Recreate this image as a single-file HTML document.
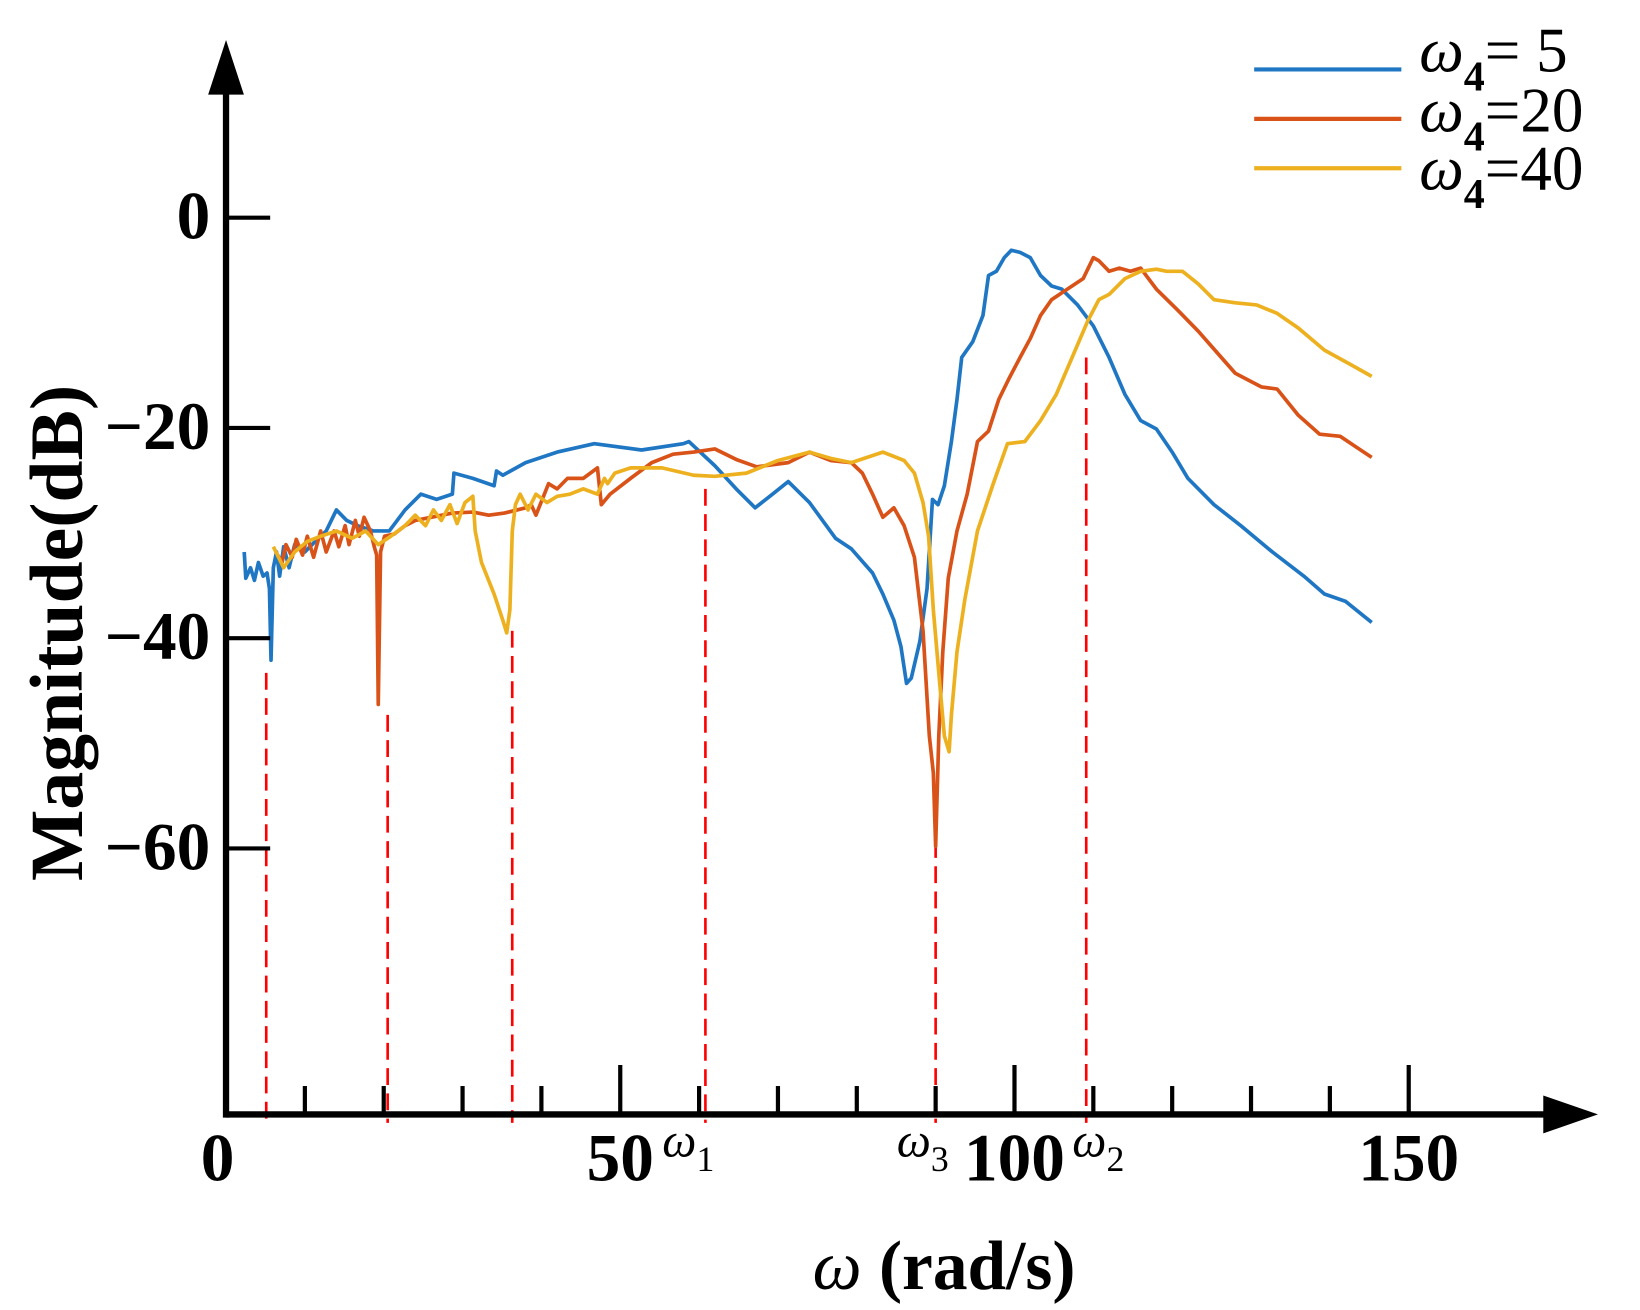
<!DOCTYPE html>
<html><head><meta charset="utf-8"><style>
html,body{margin:0;padding:0;background:#fff;}
svg{display:block;font-family:"Liberation Serif",serif;}
</style></head><body>
<svg id="chart" width="1640" height="1310" viewBox="0 0 1560 1246" xmlns="http://www.w3.org/2000/svg">
<g id="dashes"></g>
<g id="series"></g>
<g id="axes">
<line x1="215" y1="1060" x2="1475" y2="1060" stroke="#000" stroke-width="6"/>
<polygon points="1468,1042 1520,1060 1468,1078" fill="#000"/>
<line x1="215" y1="1063" x2="215" y2="85" stroke="#000" stroke-width="6"/>
<polygon points="198,90 215,38 232,90" fill="#000"/>
</g>
<g id="ticks"></g>
<text x="78" y="602" transform="rotate(-90 78 602)" text-anchor="middle" font-size="72" font-weight="bold">Magnitude(dB)</text>
<text x="898" y="1226" text-anchor="middle" font-size="66" font-weight="bold"><tspan font-style="italic" font-weight="normal">ω</tspan> (rad/s)</text>
<g font-style="italic" font-size="46">
<text x="630" y="1100">ω<tspan font-size="34" dy="14" font-style="normal">1</tspan></text>
<text x="853" y="1100">ω<tspan font-size="34" dy="14" font-style="normal">3</tspan></text>
<text x="1020" y="1100">ω<tspan font-size="34" dy="14" font-style="normal">2</tspan></text>
</g>
<g>
<g><line x1="1193" y1="66" x2="1333" y2="66" stroke="#1f77c4" stroke-width="4"/><text x="1350" y="68" font-size="60"><tspan font-style="italic">ω</tspan><tspan font-size="40" font-weight="bold" dy="18">4</tspan><tspan dy="-18">= 5</tspan></text></g>
<g><line x1="1193" y1="113" x2="1333" y2="113" stroke="#d95319" stroke-width="4"/><text x="1350" y="125" font-size="60"><tspan font-style="italic">ω</tspan><tspan font-size="40" font-weight="bold" dy="18">4</tspan><tspan dy="-18">=20</tspan></text></g>
<g><line x1="1193" y1="160" x2="1333" y2="160" stroke="#edb120" stroke-width="4"/><text x="1350" y="180" font-size="60"><tspan font-style="italic">ω</tspan><tspan font-size="40" font-weight="bold" dy="18">4</tspan><tspan dy="-18">=40</tspan></text></g>
</g>
</svg>
<script>
const blueW=[2.3,2.5,3.1,3.6,4.1,4.7,5.2,5.5,5.7,6.0,6.4,6.8,7.3,8.0,8.7,10,11.3,12.7,14,15.3,16.7,18.7,20.7,22.7,24.7,26.7,28.7,28.9,31.3,34,34.3,35.1,38,42,46.7,52.7,58,58.7,62,64.7,67.1,69.3,71.3,74,77.3,79.3,82,83.3,84.7,85.6,86.3,86.9,88,88.9,89.6,90.3,91.1,92,92.7,93.3,94.7,96,96.7,97.7,98.7,99.6,100.7,102,103.3,104.7,106,108,110,112,114,116,118,120,122,125.3,128.7,132.7,136.7,139.3,142,145.3];
const blueDB=[-31.8,-34.3,-33.3,-34.5,-32.8,-34.1,-33.8,-35.3,-42.1,-33.3,-31.8,-34.1,-31.3,-33.3,-31.1,-31.8,-30.8,-29.8,-27.8,-28.8,-29.3,-29.8,-29.8,-27.8,-26.3,-26.8,-26.3,-24.3,-24.8,-25.5,-24.1,-24.5,-23.3,-22.3,-21.5,-22.1,-21.5,-21.3,-23.6,-25.8,-27.6,-26.3,-25.1,-27.1,-30.5,-31.5,-33.8,-35.8,-38.3,-40.8,-44.3,-43.8,-40.3,-35.3,-26.8,-27.3,-25.5,-21.3,-17.3,-13.3,-11.8,-9.3,-5.5,-5.1,-3.8,-3.1,-3.3,-3.8,-5.5,-6.5,-6.8,-8.3,-10.3,-13.3,-16.8,-19.3,-20.1,-22.3,-24.8,-27.3,-29.3,-31.8,-34.1,-35.8,-36.5,-38.5];
const orangeW=[6.3,7.1,7.6,8.4,8.9,9.7,10.3,11.1,12,12.7,13.7,14.3,15.1,15.6,16.4,16.9,17.5,18.3,18.8,19.1,19.3,19.6,20.1,21.3,22.7,24,26,28.7,31.3,33.3,35.3,38,38.7,39.3,40.9,42,43.3,45.3,47.1,47.6,48.7,51.3,54,56.7,59.3,62,64.7,67.3,71.3,74,76.7,79.3,80.7,82,83.3,84.7,86,87.3,88.4,89.2,89.7,90,90.4,90.9,91.6,92.7,94,95.3,96.7,98,99.3,100.7,102,103.3,104.7,106.7,108.7,110,110.7,112,113.3,114.7,116,118,120.7,123.3,126,128,131.3,133.3,136,138.7,141.3,143.3,145.3];
const orangeDB=[-31.8,-32.8,-31.1,-32.3,-30.6,-32.1,-30.3,-32.3,-29.8,-31.8,-29.8,-31.3,-29.3,-31.1,-28.8,-30.3,-28.5,-29.8,-31.3,-32.1,-46.3,-31.8,-30.3,-30.1,-29.3,-28.8,-28.5,-28.1,-28,-28.3,-28.1,-27.6,-27.3,-28.3,-25.3,-25.8,-24.8,-24.8,-23.8,-27.3,-26.3,-24.8,-23.3,-22.5,-22.3,-22,-23,-23.7,-23.3,-22.3,-23.1,-23.3,-24.3,-26.3,-28.5,-27.6,-29.3,-32.3,-39.3,-49.3,-52.8,-59.8,-49.3,-41.3,-34.3,-29.8,-26.3,-21.3,-20.3,-17.3,-15.3,-13.3,-11.5,-9.3,-7.8,-6.8,-5.8,-3.8,-4.1,-5.1,-4.8,-5.1,-4.8,-6.8,-8.8,-10.8,-13.1,-14.8,-16.1,-16.3,-18.8,-20.6,-20.8,-21.8,-22.8];
const yellowW=[6,7.3,8.7,10.3,12,14,16,17.7,19.3,20.9,22.7,24,25.3,26.3,27.3,28.4,29.3,30.3,31.3,31.6,32.4,34,35.1,35.6,36,36.3,36.7,37.3,38.3,39.3,40.7,42,43.6,45.3,47.1,48,48.4,49.3,51.3,55.3,59.3,62,66,70,74,76.7,79.3,81.3,83.3,86,87.3,88.4,89.1,89.7,90.4,91.1,91.7,92,92.7,93.7,95.3,97.3,99.1,101.3,103.3,105.3,107.3,109.3,110.7,112,114,116,118,119.3,121.3,123.3,125.3,128,130.7,133.3,136,139.3,142.7,145.3];
const yellowDB=[-31.3,-33.3,-31.8,-30.8,-30.3,-29.8,-30.5,-29.8,-31.1,-30.3,-29.3,-28.3,-29.3,-27.8,-28.8,-27.3,-29.1,-27.1,-26.5,-29.8,-32.8,-35.8,-38.3,-39.5,-37.3,-29.8,-27.3,-26.3,-27.8,-26.3,-27.1,-26.5,-26.3,-25.8,-26.3,-24.8,-25.3,-24.3,-23.8,-23.8,-24.5,-24.6,-24.3,-23.1,-22.3,-22.9,-23.3,-22.8,-22.3,-23.1,-24.3,-27.1,-30.3,-37.3,-43.3,-49.3,-50.8,-47.3,-41.3,-36.3,-29.8,-25.3,-21.5,-21.3,-19.3,-16.8,-13.3,-9.8,-7.8,-7.3,-5.8,-5.1,-4.9,-5.1,-5.1,-6.3,-7.8,-8.1,-8.3,-9.1,-10.5,-12.6,-14,-15.1];
const dashW=[5.1,20.5,36.3,60.8,90,109.1];
const dashTopDB=[-43.3,-47.3,-39.3,-25.8,-59.3,-13.3];
const xTickVals=[10,20,30,40,50,60,70,80,90,100,110,120,130,140,150];
const xMajorVals=[50,100,150];
const xLabelVals=[0,50,100,150];
const yTickVals=[0,-20,-40,-60];

const NS='http://www.w3.org/2000/svg';
const xs=w=>215+w*7.5;
const ys=d=>207-d*10;
const Y0=1060;
function mk(tag,attrs,parent){const e=document.createElementNS(NS,tag);for(const k in attrs)e.setAttribute(k,attrs[k]);parent.appendChild(e);return e;}

const dashes=document.getElementById('dashes');
dashW.forEach((w,i)=>{
  const l=mk('line',{x1:xs(w),x2:xs(w),y1:ys(dashTopDB[i]),y2:Y0+8,stroke:'#ff0000','stroke-width':2.5,'stroke-dasharray':'16,8'},dashes);
  
  
});

const sg=document.getElementById('series');
[[blueW,blueDB,'#1f77c4','series-w4-5'],[orangeW,orangeDB,'#d95319','series-w4-20'],[yellowW,yellowDB,'#edb120','series-w4-40']].forEach(s=>{
  const n=Math.min(s[0].length,s[1].length);
  let d='';
  for(let i=0;i<n;i++)d+=(i?'L':'M')+xs(s[0][i]).toFixed(1)+','+ys(s[1][i]).toFixed(1);
  const p=mk('path',{d:d,fill:'none',stroke:s[2],'stroke-width':3.5,'stroke-linejoin':'round'},sg);
  
  
});

const tg=document.getElementById('ticks');
xTickVals.forEach(v=>{
  const major=xMajorVals.includes(v);
  const t=mk('line',{x1:xs(v),x2:xs(v),y1:major?1013:1033,y2:Y0,stroke:'#000','stroke-width':4},tg);
  
  
});
xLabelVals.forEach(v=>{
  const t=mk('text',{x:xs(v)-(v===0?8:0),y:1123,'text-anchor':'middle','font-size':64,'font-weight':'bold'},tg);
  t.textContent=String(v);
  
  
});
yTickVals.forEach(v=>{
  const t=mk('line',{x1:215,x2:257,y1:ys(v),y2:ys(v),stroke:'#000','stroke-width':4},tg);
  
  
  const lb=mk('text',{x:200,y:ys(v)+20,'text-anchor':'end','font-size':64,'font-weight':'bold'},tg);
  lb.textContent=v<0?'\u2212'+Math.abs(v):String(v);
  
  
});
</script>
</body></html>
